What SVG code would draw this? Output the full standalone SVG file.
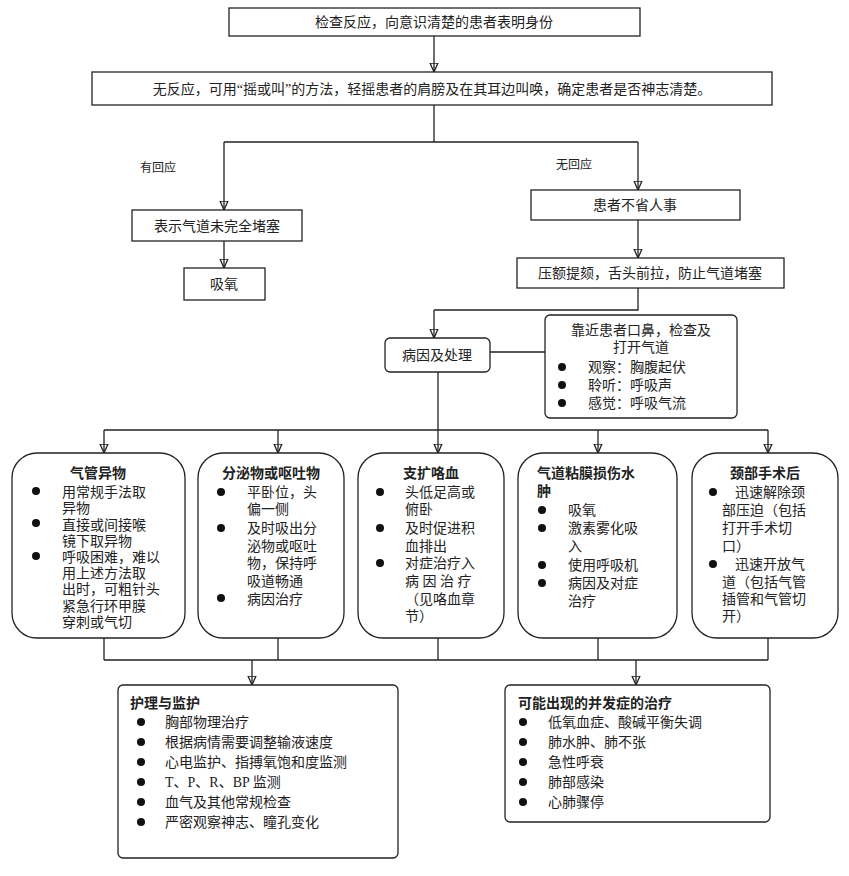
<svg xmlns="http://www.w3.org/2000/svg" width="849" height="876" viewBox="0 0 849 876">
<style>
rect{fill:#fff;stroke:#222;stroke-width:1.3}
text{font-family:"Liberation Serif","Noto Sans CJK SC",serif;font-size:14px;fill:#222}
.b{font-family:"Liberation Sans","Noto Sans CJK SC",sans-serif;font-weight:bold}
.c{text-anchor:middle}
.s{font-size:12px}
line,path{stroke:#222;stroke-width:1.3;fill:none}
circle{fill:#111}
</style>
<defs><marker id="a" markerWidth="10" markerHeight="10" refX="9" refY="5" orient="auto" markerUnits="userSpaceOnUse"><path d="M0,1 L9,5 L0,9 Z" fill="#222" stroke="none"/></marker></defs>
<g id="connectors">
<line x1="434" y1="36" x2="434" y2="72" marker-end="url(#a)"/>
<path d="M434,105 V142 M224,142 H638"/>
<line x1="224" y1="142" x2="224" y2="210" marker-end="url(#a)"/>
<line x1="638" y1="142" x2="638" y2="190" marker-end="url(#a)"/>
<line x1="224" y1="241" x2="224" y2="268" marker-end="url(#a)"/>
<line x1="638" y1="220" x2="638" y2="258" marker-end="url(#a)"/>
<path d="M638,288 V310 H434"/>
<line x1="434" y1="310" x2="434" y2="338" marker-end="url(#a)"/>
<line x1="490" y1="352" x2="545" y2="352"/>
<path d="M438,372 V430 M104,430 H768"/>
<line x1="104" y1="430" x2="104" y2="453" marker-end="url(#a)"/>
<line x1="278" y1="430" x2="278" y2="453" marker-end="url(#a)"/>
<line x1="438" y1="430" x2="438" y2="453" marker-end="url(#a)"/>
<line x1="598" y1="430" x2="598" y2="453" marker-end="url(#a)"/>
<line x1="768" y1="430" x2="768" y2="453" marker-end="url(#a)"/>
<path d="M104,638 V660 M278,638 V660 M438,638 V660 M598,638 V660 M768,638 V660 M104,660 H768"/>
<line x1="252" y1="660" x2="252" y2="685" marker-end="url(#a)"/>
<line x1="636" y1="660" x2="636" y2="685" marker-end="url(#a)"/>
</g>
<text x="140" y="172" class="s">有回应</text>
<text x="556" y="169" class="s">无回应</text>
<g id="n1"><rect x="229" y="8" width="411" height="28"/><text x="434" y="27" class="c">检查反应，向意识清楚的患者表明身份</text></g>
<g id="n2"><rect x="92" y="72" width="680" height="33"/><text x="432" y="94" class="c">无反应，可用“摇或叫”的方法，轻摇患者的肩膀及在其耳边叫唤，确定患者是否神志清楚。</text></g>
<g id="n3"><rect x="132" y="210" width="170" height="31"/><text x="217" y="231" class="c">表示气道未完全堵塞</text></g>
<g id="n4"><rect x="184" y="268" width="81" height="32"/><text x="224" y="289" class="c">吸氧</text></g>
<g id="n5"><rect x="531" y="190" width="209" height="30"/><text x="635" y="210" class="c">患者不省人事</text></g>
<g id="n6"><rect x="517" y="258" width="267" height="30"/><text x="650" y="278" class="c">压额提颏，舌头前拉，防止气道堵塞</text></g>
<g id="n7"><rect x="385" y="338" width="105" height="34" rx="5"/><text x="437" y="360" class="c">病因及处理</text></g>
<g id="n8"><rect x="545" y="315" width="192" height="103" rx="5"/>
<text x="641" y="335" class="c">靠近患者口鼻，检查及</text><text x="641" y="352" class="c">打开气道</text>
<circle cx="562" cy="367" r="4"/><text x="588" y="372">观察：胸腹起伏</text>
<circle cx="562" cy="385" r="4"/><text x="588" y="390">聆听：呼吸声</text>
<circle cx="562" cy="403" r="4"/><text x="588" y="408">感觉：呼吸气流</text></g>
<g id="n9"><rect x="12" y="453" width="173" height="185" rx="25"/>
<text x="98" y="478" class="c b">气管异物</text>
<circle cx="36" cy="491" r="4"/><circle cx="36" cy="523" r="4"/><circle cx="36" cy="556" r="4"/>
<text x="62" y="497">用常规手法取</text><text x="62" y="513">异物</text><text x="62" y="530">直接或间接喉</text><text x="62" y="546">镜下取异物</text><text x="62" y="562">呼吸困难，难以</text><text x="62" y="578">用上述方法取</text><text x="62" y="594">出时，可粗针头</text><text x="62" y="611">紧急行环甲膜</text><text x="62" y="627">穿刺或气切</text></g>
<g id="n10"><rect x="198" y="453" width="146" height="185" rx="25"/>
<text x="271" y="478" class="c b">分泌物或呕吐物</text>
<circle cx="221" cy="492" r="4"/><circle cx="221" cy="528" r="4"/><circle cx="221" cy="598" r="4"/>
<text x="247" y="497">平卧位，头</text><text x="247" y="514">偏一侧</text><text x="247" y="533">及时吸出分</text><text x="247" y="551">泌物或呕吐</text><text x="247" y="568">物，保持呼</text><text x="247" y="586">吸道畅通</text><text x="247" y="604">病因治疗</text></g>
<g id="n11"><rect x="358" y="453" width="146" height="185" rx="25"/>
<text x="431" y="478" class="c b">支扩咯血</text>
<circle cx="380" cy="492" r="4"/><circle cx="380" cy="528" r="4"/><circle cx="380" cy="563" r="4"/>
<text x="405" y="497">头低足高或</text><text x="405" y="514">俯卧</text><text x="405" y="533">及时促进积</text><text x="405" y="551">血排出</text><text x="405" y="568">对症治疗入</text><text x="405" y="586">病 因 治 疗</text><text x="405" y="604">（见咯血章</text><text x="405" y="621">节）</text></g>
<g id="n12"><rect x="518" y="453" width="159" height="185" rx="25"/>
<text x="537" y="478" class="b">气道粘膜损伤水</text><text x="537" y="496" class="b">肿</text>
<circle cx="542" cy="510" r="4"/><circle cx="542" cy="528" r="4"/><circle cx="542" cy="565" r="4"/><circle cx="542" cy="583" r="4"/>
<text x="568" y="515">吸氧</text><text x="568" y="533">激素雾化吸</text><text x="568" y="551">入</text><text x="568" y="570">使用呼吸机</text><text x="568" y="588">病因及对症</text><text x="568" y="606">治疗</text></g>
<g id="n13"><rect x="692" y="453" width="146" height="185" rx="25"/>
<text x="765" y="478" class="c b">颈部手术后</text>
<circle cx="713" cy="492" r="4"/><circle cx="713" cy="564" r="4"/>
<text x="735" y="497">迅速解除颈</text><text x="722" y="515">部压迫（包括</text><text x="722" y="533">打开手术切</text><text x="722" y="551">口）</text><text x="735" y="569">迅速开放气</text><text x="722" y="587">道（包括气管</text><text x="722" y="604">插管和气管切</text><text x="722" y="621">开）</text></g>
<g id="n14"><rect x="118" y="685" width="280" height="173" rx="5"/>
<text x="130" y="708" class="b">护理与监护</text>
<circle cx="141" cy="722" r="4"/><circle cx="141" cy="742" r="4"/><circle cx="141" cy="762" r="4"/><circle cx="141" cy="782" r="4"/><circle cx="141" cy="802" r="4"/><circle cx="141" cy="822" r="4"/>
<text x="165" y="727">胸部物理治疗</text><text x="165" y="747">根据病情需要调整输液速度</text><text x="165" y="767">心电监护、指搏氧饱和度监测</text><text x="165" y="787">T、P、R、BP 监测</text><text x="165" y="807">血气及其他常规检查</text><text x="165" y="827">严密观察神志、瞳孔变化</text></g>
<g id="n15"><rect x="505" y="685" width="265" height="137" rx="5"/>
<text x="518" y="708" class="b">可能出现的并发症的治疗</text>
<circle cx="523" cy="722" r="4"/><circle cx="523" cy="742" r="4"/><circle cx="523" cy="762" r="4"/><circle cx="523" cy="782" r="4"/><circle cx="523" cy="802" r="4"/>
<text x="548" y="727">低氧血症、酸碱平衡失调</text><text x="548" y="747">肺水肿、肺不张</text><text x="548" y="767">急性呼衰</text><text x="548" y="787">肺部感染</text><text x="548" y="807">心肺骤停</text></g>
</svg>
